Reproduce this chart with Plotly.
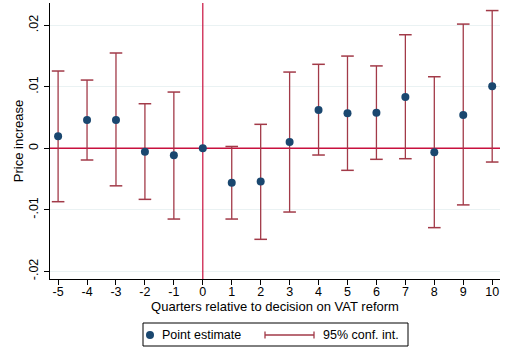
import plotly.graph_objects as go

quarters = [-5, -4, -3, -2, -1, 0, 1, 2, 3, 4, 5, 6, 7, 8, 9, 10]
estimate = [0.00195, 0.0046, 0.0046, -0.00055, -0.00114, 0.0, -0.0056, -0.0054,
            0.00102, 0.00623, 0.0057, 0.0058, 0.00834, -0.00065, 0.0054, 0.0101]
ci_low = [-0.00868, -0.0019, -0.0061, -0.0083, -0.0115, None, -0.0115, -0.0148,
          -0.01036, -0.00109, -0.00358, -0.00179, -0.00169, -0.0129, -0.0092, -0.00223]
ci_high = [0.01257, 0.0111, 0.0155, 0.00725, 0.00915, None, 0.0003, 0.0039,
           0.0124, 0.01366, 0.015, 0.0134, 0.01847, 0.01164, 0.0202, 0.0224]

y_tick_vals = [-0.02, -0.01, 0, 0.01, 0.02]
y_tick_text = ["-.02", "-.01", "0", ".01", ".02"]
x_tick_text = [str(q) for q in quarters]
x_range = [-5.28, 10.27]
y_range = [-0.02125, 0.02363]
ref_x = 0
ref_y = 0
legend_labels = ["Point estimate", "95% conf. int."]

ci_color = "#a23a48"
pt_color = "#1a476f"
ref_color = "#c8103e"
font = "Liberation Sans, Arial, sans-serif"

W, H = 511, 351
L, R, T, B = 50, 11, 3, 72
pw, ph = W - L - R, H - T - B


def px(xp):
    return (xp - L) / pw


def py(yp):
    return (H - B - yp) / ph


# CI segments
seg_x, seg_y, cap_x, cap_y = [], [], [], []
for q, lo, hi in zip(quarters, ci_low, ci_high):
    if lo is None:
        continue
    seg_x += [q, q, None]
    seg_y += [lo, hi, None]
    cap_x += [q, q]
    cap_y += [lo, hi]

fig = go.Figure()

# reference lines (drawn first, under marks)
fig.add_trace(go.Scatter(
    x=x_range, y=[ref_y, ref_y], mode="lines", showlegend=False, hoverinfo="skip",
    line=dict(color=ref_color, width=1.4),
))
fig.add_trace(go.Scatter(
    x=[ref_x, ref_x], y=y_range, mode="lines", showlegend=False, hoverinfo="skip",
    line=dict(color=ref_color, width=1.2),
))

fig.add_trace(go.Scatter(
    x=seg_x, y=seg_y, mode="lines", name=legend_labels[1],
    line=dict(color=ci_color, width=1.3), showlegend=False,
))
fig.add_trace(go.Scatter(
    x=cap_x, y=cap_y, mode="markers", showlegend=False, hoverinfo="skip",
    marker=dict(symbol="line-ew", size=9, line=dict(color=ci_color, width=1.5)),
))
fig.add_trace(go.Scatter(
    x=quarters, y=estimate, mode="markers", name=legend_labels[0],
    marker=dict(color=pt_color, size=8), showlegend=False,
))

# manual legend (Stata style)
ly = 335
fig.add_shape(type="rect", xref="paper", yref="paper",
              x0=px(143), x1=px(408), y0=py(323), y1=py(346),
              line=dict(color="black", width=1), fillcolor="white")
fig.add_shape(type="circle", xref="paper", yref="paper",
              x0=px(146), x1=px(154), y0=py(ly - 4), y1=py(ly + 4),
              line=dict(color=pt_color, width=0), fillcolor=pt_color)
fig.add_annotation(text=legend_labels[0], xref="paper", yref="paper",
                   x=px(160), y=py(ly), xanchor="left", yanchor="middle",
                   showarrow=False, font=dict(size=12.5))
fig.add_shape(type="line", xref="paper", yref="paper",
              x0=px(265), x1=px(314), y0=py(ly), y1=py(ly),
              line=dict(color=ci_color, width=1.3))
for cx in (265, 314):
    fig.add_shape(type="line", xref="paper", yref="paper",
                  x0=px(cx), x1=px(cx), y0=py(ly - 3.5), y1=py(ly + 3.5),
                  line=dict(color=ci_color, width=1.3))
fig.add_annotation(text=legend_labels[1], xref="paper", yref="paper",
                   x=px(321), y=py(ly), xanchor="left", yanchor="middle",
                   showarrow=False, font=dict(size=12.5))

fig.update_layout(
    width=W, height=H,
    margin=dict(l=L, r=R, t=T, b=B, autoexpand=False),
    paper_bgcolor="white", plot_bgcolor="white",
    font=dict(family=font, size=12, color="black"),
    showlegend=False,
)
fig.update_xaxes(
    range=x_range, tickvals=quarters, ticktext=x_tick_text,
    showline=True, linecolor="black", linewidth=1, ticks="outside", ticklen=5,
    tickcolor="black", showgrid=False, zeroline=False, automargin=False,
    ticklabelstandoff=-4,
    title=dict(text="Quarters relative to decision on VAT reform", standoff=1,
               font=dict(size=13)),
    tickfont=dict(size=12.5),
)
fig.update_yaxes(
    range=y_range, tickvals=y_tick_vals, ticktext=y_tick_text,
    tickangle=-90, showline=True, linecolor="black", linewidth=1, ticks="outside",
    ticklen=5, tickcolor="black", showgrid=True, gridcolor="#eaf2f3", gridwidth=1,
    zeroline=False, automargin=False, ticklabelstandoff=1,
    title=dict(text="Price increase", standoff=0, font=dict(size=13)),
    tickfont=dict(size=12.5),
)

fig.write_html("out.html", config={"displayModeBar": False},
               post_script="document.body.style.margin='0';")
